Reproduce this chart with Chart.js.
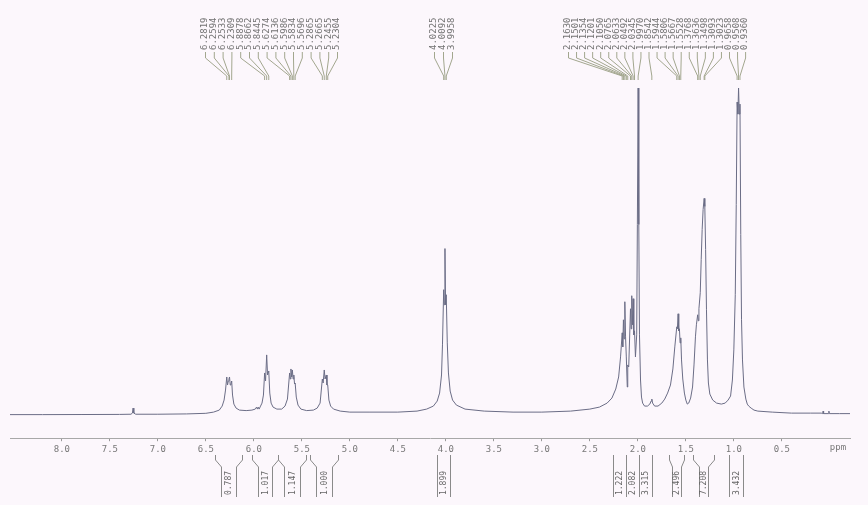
<!DOCTYPE html>
<html><head><meta charset="utf-8">
<script src="https://cdn.jsdelivr.net/npm/chart.js@4"></script>
<style>html,body{margin:0;padding:0;background:#fcf7fc;}canvas{display:block}</style>
</head><body>
<canvas id="c" width="868" height="505"></canvas>
<script>
// Spectrum: chemical shift (ppm) and intensity (arbitrary units)
const ppm = [8.54,8.2,7.8,7.4,7.28,7.265,7.258,7.25,7.23,7.0,6.7,6.5,6.42,6.36,6.33,6.31,6.295,6.2819,6.274,6.266,6.2594,6.2533,6.246,6.238,6.2309,6.222,6.208,6.185,6.15,6.08,6.02,5.985,5.972,5.963,5.955,5.945,5.93,5.915,5.9,5.8878,5.878,5.8662,5.857,5.8445,5.834,5.82,5.8,5.76,5.71,5.675,5.65,5.6274,5.62,5.6136,5.606,5.5986,5.591,5.5834,5.576,5.5696,5.558,5.54,5.51,5.45,5.38,5.34,5.31,5.2865,5.278,5.2665,5.258,5.2455,5.238,5.2304,5.218,5.2,5.17,5.1,5.0,4.8,4.5,4.3,4.2,4.13,4.09,4.065,4.045,4.035,4.0225,4.016,4.0092,4.003,3.9958,3.985,3.973,3.955,3.93,3.89,3.8,3.6,3.3,3.0,2.7,2.5,2.4,2.32,2.27,2.23,2.2,2.18,2.163,2.157,2.1501,2.143,2.1354,2.128,2.1201,2.11,2.105,2.095,2.0765,2.07,2.0633,2.056,2.0492,2.042,2.0345,2.025,2.012,2.005,1.997,1.99,1.983,1.972,1.962,1.95,1.93,1.9,1.875,1.862,1.8542,1.846,1.825,1.79,1.75,1.72,1.69,1.66,1.635,1.615,1.5944,1.588,1.5806,1.574,1.5667,1.56,1.5528,1.545,1.532,1.515,1.5,1.485,1.47,1.45,1.43,1.415,1.4,1.39,1.3768,1.37,1.3636,1.3498,1.34,1.33,1.32,1.3093,1.3023,1.294,1.285,1.275,1.265,1.25,1.22,1.18,1.13,1.09,1.06,1.034,1.015,1.0,0.985,0.975,0.9658,0.958,0.9508,0.943,0.936,0.928,0.92,0.91,0.895,0.875,0.86,0.845,0.82,0.79,0.75,0.6,0.4,0.2,0.09,0.075,0.07,0.065,0.015,0.01,0.005,-0.1,-0.21];
const intensity = [0.5,0.5,0.6,0.7,0.9,2,7,2,0.9,0.9,1.2,1.8,3,5,9,15,25,38,30,34,36,38,30,31,34,20,11,7,5,4.5,5,6,8,6,8,6,9,12,20,42,34,60,40,44,22,12,8,6,6,9,16,42,36,46,38,45,36,40,31,32,18,10,6,4.5,5,7,12,36,32,45,36,40,30,30,15,9,6,4,3,3,3,4,6,9,14,22,40,70,125,110,166,110,120,72,42,24,15,10,6,4,3,3,4,6,8,12,17,26,38,58,82,68,95,76,113,78,58,28,50,48,106,86,119,90,116,80,84,58,80,190,326,190,80,35,18,12,9,9,11,14,16,12,9,9,12,16,22,30,46,68,88,86,101,84,86,72,77,55,36,22,15,11,12,17,28,50,78,90,100,94,106,122,155,185,205,216,208,165,105,55,32,21,15,12,11,12,15,19,35,65,120,210,312,300,326,300,310,180,95,55,28,16,11,9,7,5,4,3,2,2,2,1.5,4,1.5,1.5,4,1.5,1.5,1.5];

const tickValues = [8.0,7.5,7.0,6.5,6.0,5.5,5.0,4.5,4.0,3.5,3.0,2.5,2.0,1.5,1.0,0.5];
const tickLabels = ['8.0','7.5','7.0','6.5','6.0','5.5','5.0','4.5','4.0','3.5','3.0','2.5','2.0','1.5','1.0','0.5'];

// Peak picking labels (ppm), in three label groups
const peakLabelsA = [6.2819,6.2594,6.2533,6.2309,5.8878,5.8662,5.8445,5.6274,5.6136,5.5986,5.5834,5.5696,5.2865,5.2665,5.2455,5.2304];
const peakLabelsB = [4.0225,4.0092,3.9958];
const peakLabelsC = [2.1630,2.1501,2.1354,2.1201,2.1050,2.0765,2.0633,2.0492,2.0345,1.9970,1.8542,1.5944,1.5806,1.5667,1.5528,1.3768,1.3636,1.3498,1.3093,1.3023,0.9658,0.9508,0.9360];

// Integrals: ranges (ppm) and values
const integralFrom = [6.405,6.02,5.75,5.41,4.09,2.255,2.12,1.985,1.68,1.43,1.055];
const integralTo   = [6.12,5.75,5.46,5.12,3.955,2.12,1.985,1.85,1.52,1.21,0.90];
const integralValues = ['0.787','1.017','1.147','1.000','1.899','1.222','2.082','3.315','2.496','7.208','3.432'];
const integralFlared = [true,true,true,true,false,false,false,false,true,true,false];

const annot = {
  id:'annot',
  afterDraw(chart){
    const ctx = chart.ctx, xs = chart.scales.x;
    ctx.save();
    ctx.font = '9px "DejaVu Sans Mono"';
    ctx.fillStyle = '#777';
    ctx.textAlign = 'center'; ctx.textBaseline = 'middle';
    ctx.fillText('ppm', 838, 448);
    const groups = [[peakLabelsA,205,8.8],[peakLabelsB,434,9],[peakLabelsC,568,8.05]];
    groups.forEach(([arr,x0,dx])=>{
      arr.forEach((v,i)=>{
        const lx = x0 + i*dx;
        const px = xs.getPixelForValue(v);
        ctx.strokeStyle = '#a2a68e'; ctx.lineWidth = 1;
        ctx.beginPath();
        ctx.moveTo(lx+0.5, 52); ctx.lineTo(lx+0.5, 58);
        ctx.lineTo(px, 76); ctx.lineTo(px, 80);
        ctx.stroke();
        ctx.save();
        ctx.translate(lx, 50);
        ctx.rotate(-Math.PI/2);
        ctx.font = '9px "DejaVu Sans Mono"';
        ctx.fillStyle = '#737373';
        ctx.textAlign = 'left'; ctx.textBaseline = 'middle';
        ctx.fillText(v.toFixed(4), 0, 0);
        ctx.restore();
      });
    });
    integralFrom.forEach((a,i)=>{
      const x1 = Math.round(xs.getPixelForValue(a))+0.5;
      const x2 = Math.round(xs.getPixelForValue(integralTo[i]))+0.5;
      const f = integralFlared[i] ? Math.max(2, Math.min(6, Math.floor((x2-x1-9)/2))) : 0;
      ctx.strokeStyle = '#8a8a8a'; ctx.lineWidth = 1;
      ctx.beginPath();
      ctx.moveTo(x1, 455); ctx.lineTo(x1, 460); ctx.lineTo(x1+f, 467); ctx.lineTo(x1+f, 497);
      ctx.moveTo(x2, 455); ctx.lineTo(x2, 460); ctx.lineTo(x2-f, 467); ctx.lineTo(x2-f, 497);
      ctx.stroke();
      ctx.save();
      ctx.translate((x1+x2)/2, 483);
      ctx.rotate(-Math.PI/2);
      ctx.font = '8px "DejaVu Sans Mono"';
      ctx.fillStyle = '#666';
      ctx.textAlign = 'center'; ctx.textBaseline = 'middle';
      ctx.fillText(integralValues[i], 0, 0);
      ctx.restore();
    });
    ctx.restore();
  }
};

new Chart(document.getElementById('c'), {
  type:'line',
  data:{ datasets:[{
    data: ppm.map((p,i)=>({x:p, y:intensity[i]})),
    borderColor:'#6b6d86', borderWidth:1, pointRadius:0, tension:0, fill:false
  }]},
  options:{
    responsive:false, animation:false,
    layout:{padding:{left:10,right:18,top:80,bottom:47}},
    plugins:{legend:{display:false}, tooltip:{enabled:false}},
    scales:{
      x:{type:'linear', reverse:true, min:-0.21, max:8.54,
         afterBuildTicks:(s)=>{ s.ticks = tickValues.map(v=>({value:v})); },
         ticks:{callback:(v,i)=>tickLabels[i], font:{family:'DejaVu Sans Mono', size:9}, color:'#777', padding:3, maxRotation:0, autoSkip:false},
         grid:{display:true, drawOnChartArea:false, drawTicks:true, tickLength:3, color:'#999'},
         border:{display:true, color:'#a8a8a8', dash:[3,2]}},
      y:{display:false, min:-23, max:334}
    }
  },
  plugins:[annot]
});
</script>
</body></html>
